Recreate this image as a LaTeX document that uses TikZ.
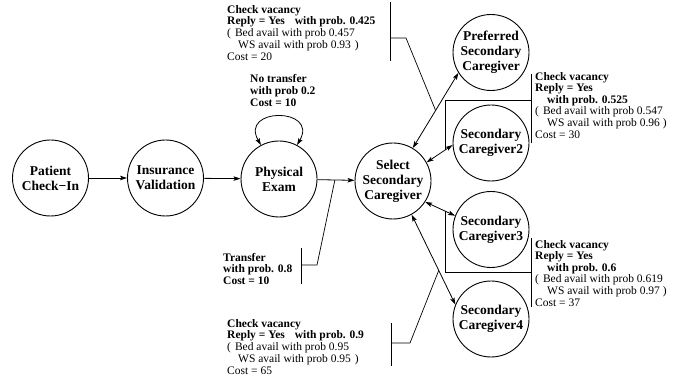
\documentclass[tikz,border=0pt]{standalone}
\usepackage{fontspec}
\setmainfont{Liberation Serif}
\usetikzlibrary{arrows.meta}
\begin{document}
\begin{tikzpicture}[x=1pt,y=-1pt,
  every node/.style={inner sep=0pt},
  stage/.style={draw, circle, line width=0.9pt, minimum size=76pt, align=center,
    font=\fontsize{13.5}{15}\selectfont\bfseries},
  tip/.tip={Stealth[length=7pt,width=4.5pt,inset=1.5pt]},
  flow/.style={line width=0.8pt, -tip},
  twoway/.style={line width=0.8pt, tip-tip},
  note/.style={align=left, anchor=north west, font=\fontsize{11.5}{11.6}\selectfont},
  widenote/.style={note, font=\fontsize{11.5}{11.8}\selectfont},
  bar/.style={line width=0.9pt},
  lead/.style={line width=0.7pt}]

\useasboundingbox (0,0) rectangle (691,379);

% process stages
\node[stage] (pc)   at (50.5,178) {Patient\\Check−In};
\node[stage] (iv)   at (165.5,178) {Insurance\\Validation};
\node[stage] (pe)   at (279,179) {Physical\\Exam};
\node[stage] (sel)  at (393,181) {Select\\Secondary\\Caregiver};
\node[stage] (pref) at (491,52.5) {Preferred\\Secondary\\Caregiver};
\node[stage] (cg2)  at (491,143) {Secondary\\Caregiver2};
\node[stage] (cg3)  at (491,229.5) {Secondary\\Caregiver3};
\node[stage] (cg4)  at (491,319) {Secondary\\Caregiver4};

% main flow
\draw[flow] (pc) -- (iv);
\draw[flow] (iv) -- (pe);
\draw[flow] (pe) -- coordinate[pos=0.47] (mt) (sel);
\draw[twoway] (pe.118) .. controls ++(-22,-38) and ++(22,-38) .. (pe.62);

% requests to the caregivers
\draw[twoway] (sel.59)  -- coordinate[pos=0.5]  (m1) (pref.212);
\draw[twoway] (sel.29)  -- coordinate[pos=0.72] (m2) (cg2.183);
\draw[twoway] (sel.-33) -- coordinate[pos=0.66] (m3) (cg3.159);
\draw[twoway] (sel.-61) -- coordinate[pos=0.62] (m4) (cg4.158);

% annotation brackets
\coordinate (b1) at (390,38);
\draw[bar] (390,2) -- (390,61);
\draw[lead] (b1) -- ++(16,0) -- (m1);

\coordinate (bt) at (301,265);
\draw[bar] (301,248) -- (301,284);
\draw[lead] (bt) -- ++(16,0) -- (mt);

\coordinate (b4) at (391,343);
\draw[bar] (391,323) -- (391,366);
\draw[lead] (b4) -- ++(19,0) -- (m4);

\coordinate (b2) at (531,100);
\draw[bar] (531,74) -- (531,143);
\draw[lead] (b2) -| (m2);

\coordinate (b3) at (531,272);
\draw[bar] (531,238) -- (531,307);
\draw[lead] (b3) -| (m3);

% annotations
\node[widenote] (t1) at (227,5) {\textbf{Check vacancy}\\
  \textbf{Reply = Yes\hspace{10pt}with prob. 0.425}\\
  (\hspace{4pt}Bed avail with prob 0.457\\
  \hspace*{11pt}WS avail with prob 0.93\hspace{4pt})\\
  Cost = 20};

\node[note, font=\fontsize{11.5}{12}\selectfont\bfseries] (tl) at (250,74)
  {No transfer\\with prob 0.2\\Cost = 10};

\node[note, font=\fontsize{11.5}{11.6}\selectfont\bfseries] (tt) at (223,253)
  {Transfer\\with prob. 0.8\\Cost = 10};

\node[widenote] (t4) at (227,319) {\textbf{Check vacancy}\\
  \textbf{Reply = Yes\hspace{10pt}with prob. 0.9}\\
  (\hspace{4pt}Bed avail with prob 0.95\\
  \hspace*{11pt}WS avail with prob 0.95\hspace{4pt})\\
  Cost = 65};

\node[note] (t2) at (535,72) {\textbf{Check vacancy}\\
  \textbf{Reply = Yes}\\
  \hspace*{12pt}\textbf{with prob. 0.525}\\
  (\hspace{4pt}Bed avail with prob 0.547\\
  \hspace*{12pt}WS avail with prob 0.96 )\\
  Cost = 30};

\node[note] (t3) at (535,240) {\textbf{Check vacancy}\\
  \textbf{Reply = Yes}\\
  \hspace*{12pt}\textbf{with prob. 0.6}\\
  (\hspace{4pt}Bed avail with prob 0.619\\
  \hspace*{12pt}WS avail with prob 0.97 )\\
  Cost = 37};
\end{tikzpicture}
\end{document}
